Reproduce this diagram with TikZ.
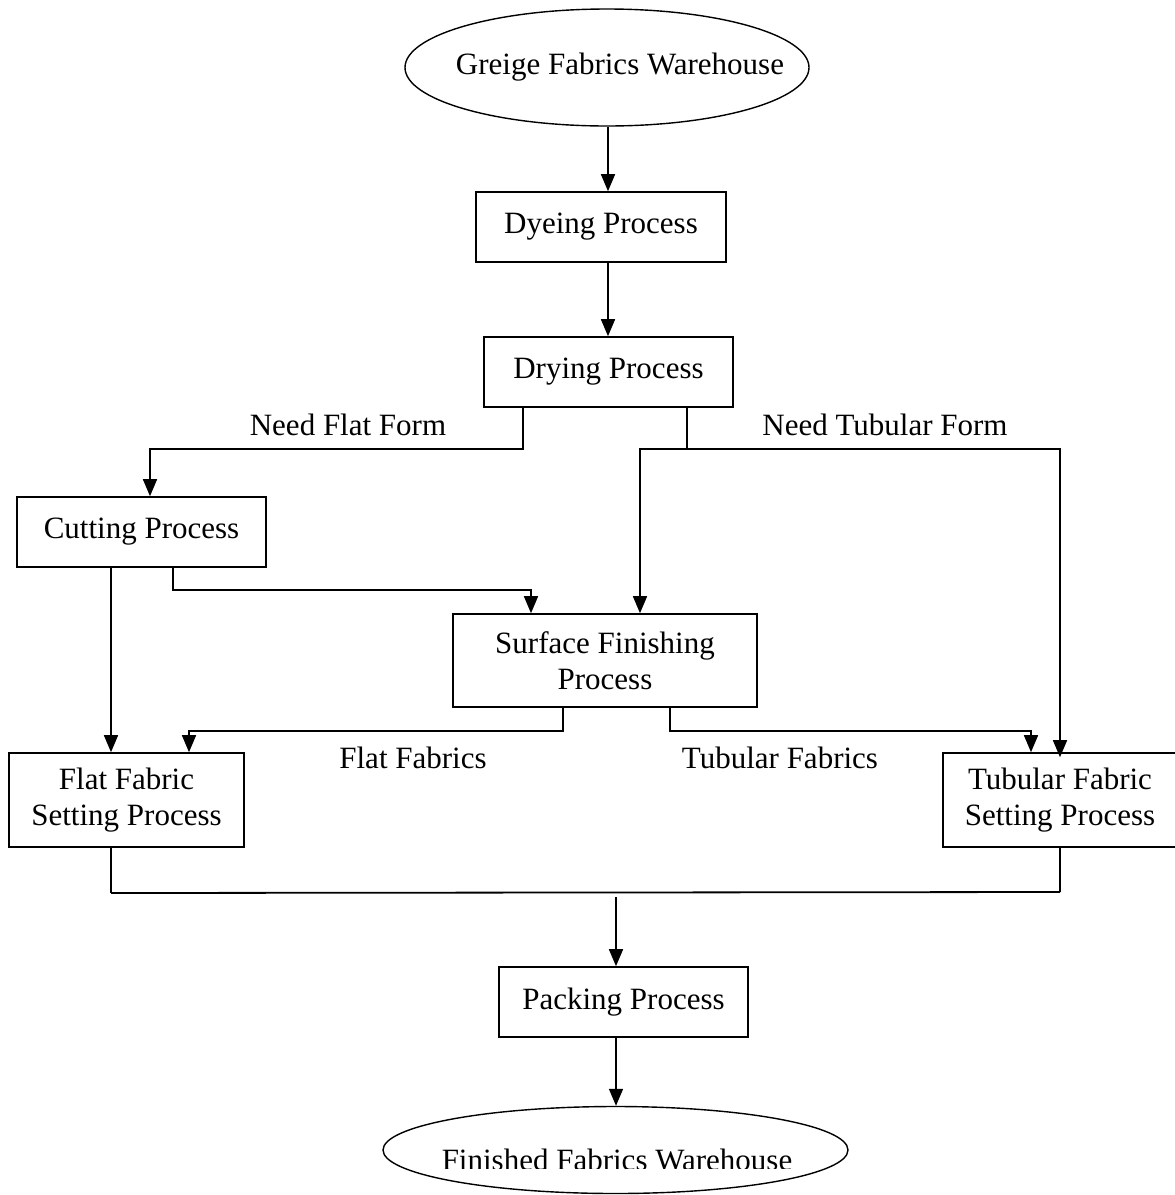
\documentclass[tikz,border=0pt]{standalone}
\usepackage{fontspec}
\setmainfont{Liberation Serif}
\usetikzlibrary{arrows.meta,shapes.geometric}

\begin{document}
\begin{tikzpicture}[x=1pt,y=-1pt,
  font=\fontsize{31}{36}\selectfont,
  stepbox/.style={draw,line width=1.6pt,rectangle,inner sep=0pt,align=center},
  store/.style={draw,line width=1.4pt,ellipse,inner sep=0pt},
  tag/.style={inner sep=0pt,anchor=base},
  arr/.style={line width=1.6pt,-{Triangle[length=17pt,width=14pt]}},
  link/.style={line width=1.1pt}]
\useasboundingbox (0,0) rectangle (1175,1195);

% stores
\node[store,minimum width=404pt,minimum height=117pt] (g) at (607,67.5)
  {\makebox[0pt]{\hspace*{26pt}Greige Fabrics Warehouse}};
\node[store,minimum width=465pt,minimum height=87pt] (f) at (615.5,1150) {};
\begin{scope}
  \clip (383,1100) rectangle (848,1168.5);
  \node[tag] (ftext) at (617,1170) {Finished Fabrics Warehouse};
\end{scope}

% process steps
\node[stepbox,minimum width=250pt,minimum height=70pt] (dye) at (601,227) {Dyeing Process};
\node[stepbox,minimum width=249pt,minimum height=70pt] (dry) at (608.5,372) {Drying Process};
\node[stepbox,minimum width=249pt,minimum height=70pt] (cut) at (141.5,532) {Cutting Process};
\node[stepbox,minimum width=304pt,minimum height=93pt] (surf) at (605,660.5) {Surface Finishing\\Process};
\node[stepbox,minimum width=235pt,minimum height=94pt] (flat) at (126.5,800) {Flat Fabric\\Setting Process};
\node[stepbox,minimum width=234pt,minimum height=94pt] (tub) at (1060,800) {Tubular Fabric\\Setting Process};
\node[stepbox,minimum width=249pt,minimum height=70pt] (pack) at (623.5,1002) {Packing Process};

% branch labels
\node[tag] (lflat) at (348,435) {Need Flat Form};
\node[tag] (ltub) at (885,435) {Need Tubular Form};
\node[tag] (lff) at (413,768) {Flat Fabrics};
\node[tag] (ltf) at (780,768) {Tubular Fabrics};

% main line
\draw[arr] (g.south -| 608,0) -- (dye.north -| 608,0);
\draw[arr] (dye.south -| 608,0) -- (dry.north -| 608,0);

% flat form branch
\draw[arr] (dry.south -| 523,0) |- (150,449) -- (cut.north -| 150,0);
\draw[arr] (cut.south -| 173,0) |- (531,590) -- (surf.north -| 531,0);
\draw[arr] (cut.south -| 111,0) -- (flat.north -| 111,0);

% tubular form branch
\draw[link] (dry.south -| 687,0) -- (687,449);
\draw[arr] (1060,449) -| (surf.north -| 640,0);
\draw[arr] (640,449) -- (1060,449) -- ([yshift=-5pt]tub.north);

% surface finishing outputs
\draw[arr] (surf.south -| 563,0) |- (189,731) -- (flat.north -| 189,0);
\draw[arr] (surf.south -| 670,0) |- (1031,731) -- (tub.north -| 1031,0);

% merge to packing
\draw[link] (flat.south -| 111,0) -- (111,893);
\draw[link] (tub.south) -- (1060,892);
\draw[line width=1.8pt] (111,893) -- (1060,892);
\coordinate (mj) at (616,897);
\draw[arr] (mj) -- (pack.north -| mj);
\draw[arr] (pack.south -| mj) -- (f.north -| mj);
\end{tikzpicture}
\end{document}
